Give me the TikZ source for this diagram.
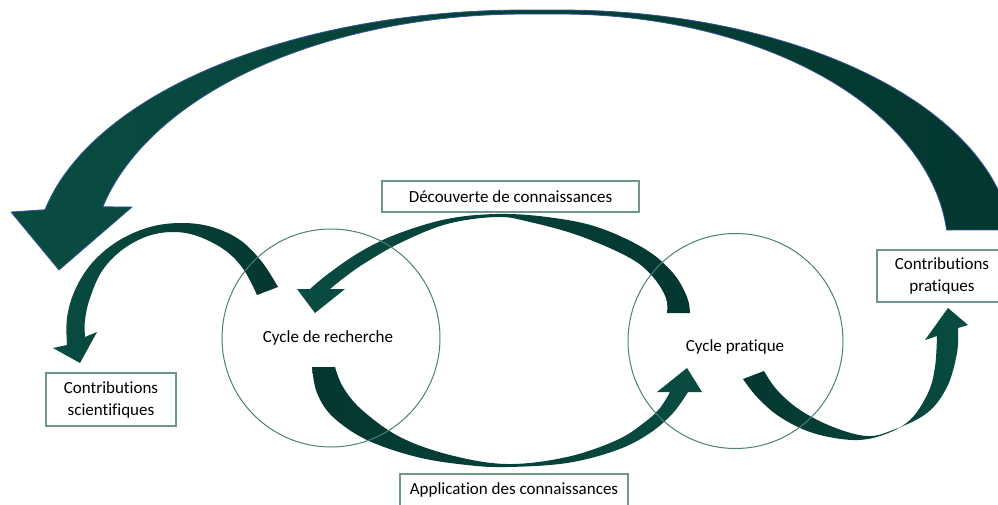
\documentclass[tikz,border=0pt]{standalone}
\usepackage{fontspec}
\setmainfont{Carlito}[Ligatures=NoCommon]
\definecolor{agl}{RGB}{9,76,66}
\definecolor{agd}{RGB}{3,54,46}
\definecolor{circc}{RGB}{74,128,118}
\definecolor{boxc}{RGB}{110,150,140}
\definecolor{bigline}{RGB}{52,84,150}
\tikzset{
  headleft/.style={left color=agl, right color=agd},
  headright/.style={left color=agd, right color=agl},
  ringc/.style={circle, draw=circc, line width=1pt, inner sep=0pt, outer sep=0pt, minimum size=#1},
  lblbox/.style={draw=boxc, line width=1.1pt, fill=white, inner sep=0pt, align=center,
     font=\fontsize{17}{22}\selectfont},
  plain/.style={inner sep=0pt, font=\fontsize{17}{20}\selectfont}
}
\begin{document}
\begin{tikzpicture}[x=1pt,y=-1pt]
\useasboundingbox (0,0) rectangle (998,504);
\clip (0,0) rectangle (998,504);

% big feedback arrow
\path[headleft, draw=bigline, line width=0.8pt, line join=round]
  plot[domain=191.6:270, samples=60, smooth] ({525+490*cos(\x)},{260+250*sin(\x)})
  -- plot[domain=270:355.2, samples=60, smooth] ({560+452.6*cos(\x)},{250+240*sin(\x)})
  -- (947,230)
  -- plot[domain=355.1:270, samples=60, smooth] ({560+388*cos(\x)},{250+236*sin(\x)})
  -- plot[domain=270:193.4, samples=60, smooth] ({525+434*cos(\x)},{265+251*sin(\x)})
  -- (132,207) -- (59,270) -- (11,212) -- cycle;

% research cycle -> scientific contributions
\path[headleft]
  plot[smooth, tension=0.6] coordinates {(67,345) (67,318) (75,290) (92,263) (118,241) (150,227) (182,223) (212,227) (240,240) (262,262) (278,287)}
  -- (257,295)
  -- plot[smooth, tension=0.6] coordinates {(257,295) (244,270) (226,251) (200,237) (175,232) (148,236) (122,250) (102,271) (90,298) (85,320) (85,337)}
  -- (97,332) -- (80,363) -- (53,348) -- cycle;

% practical cycle -> research cycle (discovery)
\path[headleft]
  plot[smooth, tension=0.6] coordinates {(310,289) (328,274) (360,252) (397,234) (447,219) (497,214) (547,217) (597,227) (645,249) (673,273) (687,297) (690,313)}
  -- (667,313)
  -- plot[smooth, tension=0.6] coordinates {(667,313) (666,298) (653,277) (630,258) (580,236) (530,222) (497,217) (447,224) (400,243) (365,263) (345,277) (330,289)}
  -- (345,289) -- (315,313) -- (297,289) -- cycle;

% research cycle -> practical cycle (application)
\path[headright]
  plot[smooth, tension=0.6] coordinates {(312,367) (317,393) (333,417) (367,440) (417,457) (467,465) (507,467) (567,463) (617,450) (650,433) (673,413) (688,392)}
  -- (702,392) -- (687,368) -- (657,392) -- (670,392)
  -- plot[smooth, tension=0.6] coordinates {(670,392) (660,408) (645,422) (617,440) (567,457) (507,464) (450,455) (400,437) (362,410) (343,387) (335,367)}
  -- cycle;

% practical cycle -> practical contributions
\path[headright]
  plot[smooth, tension=0.6] coordinates {(743,379) (757,397) (780,417) (813,433) (853,440) (883,435) (910,420) (928,393) (935,367) (937,336)}
  -- (925,340) -- (948,308) -- (968,325) -- (958,328)
  -- plot[smooth, tension=0.6] coordinates {(958,328) (957,353) (947,387) (927,413) (893,430) (867,436) (833,427) (800,410) (777,390) (764,371)}
  -- cycle;

% cycles
\node[ringc=218pt] (rc) at (331,338) {};
\node[ringc=215pt] (pc) at (735.5,341) {};
\node[plain] (rct) at (328,338) {Cycle de recherche};
\node[plain] (pct) at (735,347) {Cycle pratique};

% labels
\node[lblbox, minimum width=257pt, minimum height=31pt] (dec) at (510.5,196.5) {Découverte de connaissances};
\node[lblbox, minimum width=228pt, minimum height=32pt] (app) at (514,490) {Application des connaissances};
\node[lblbox, minimum width=130pt, minimum height=53pt] (sci) at (111,399.5) {Contributions\\scientifiques};
\node[lblbox, minimum width=130pt, minimum height=52pt] (pra) at (942,276) {Contributions\\pratiques};
\end{tikzpicture}
\end{document}
